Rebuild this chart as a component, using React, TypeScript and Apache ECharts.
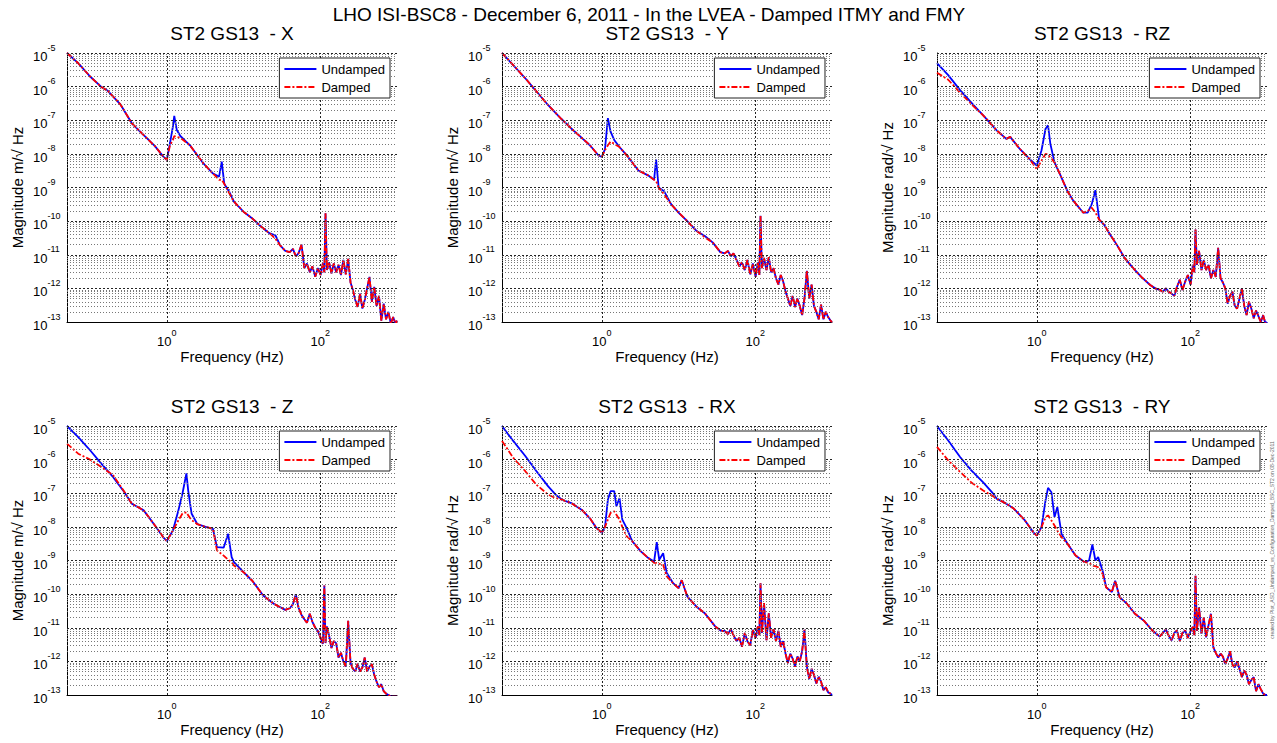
import React, { useEffect, useRef } from 'react';
import * as echarts from 'echarts';

// ---------- text ----------
const mainTitle = 'LHO ISI-BSC8 - December 6, 2011 - In the LVEA - Damped ITMY and FMY';
const panelTitles = ['ST2 GS13  - X', 'ST2 GS13  - Y', 'ST2 GS13  - RZ', 'ST2 GS13  - Z', 'ST2 GS13  - RX', 'ST2 GS13  - RY'];
const yAxisNames = ['Magnitude m/\u221A Hz', 'Magnitude m/\u221A Hz', 'Magnitude rad/\u221A Hz', 'Magnitude m/\u221A Hz', 'Magnitude rad/\u221A Hz', 'Magnitude rad/\u221A Hz'];
const xAxisName = 'Frequency (Hz)';
const seriesNames = ['Undamped', 'Damped'];
const watermark = 'created by Plot_ASD_Undamped_vs_Configuration_Damped_BSC_ST2 on 08-Dec-2011';

// ---------- axes ----------
const xMin = 0.05;
const xMax = 1000;
const yMin = 1e-13;
const yMax = 1e-5;
const xLabelTicks = [1, 100];
const yDecadeExponents = [-13, -12, -11, -10, -9, -8, -7, -6, -5];
const minorMultipliers = [2, 3, 4, 5, 6, 7, 8, 9];

// ---------- shared high-frequency grid (Hz), both traces overlap there ----------
const tailFreq = [40, 44, 48, 52, 57, 62, 67, 73, 79, 86, 93, 101, 108, 113, 117, 122, 130, 140, 150, 161, 173, 186, 200, 215, 231, 248, 266, 286, 307, 330, 354, 380, 408, 438, 470, 505, 542, 582, 625, 671, 720, 773, 830, 891, 956, 1000];

// ---------- X ----------
const freqX = [0.05, 0.07, 0.1, 0.14, 0.17, 0.25, 0.35, 0.5, 0.7, 0.9, 1.0, 1.1, 1.2, 1.25, 1.35, 1.5, 2.0, 3.0, 4.0, 4.8, 5.2, 5.6, 6.5, 7.5, 10, 13, 17, 22, 26, 30, 35];
const undampedX = [1.0e-5, 5.0e-6, 2.0e-6, 9.8e-7, 7.5e-7, 2.9e-7, 8.1e-8, 3.6e-8, 1.7e-8, 8.3e-9, 6.6e-9, 2.1e-8, 6.5e-8, 1.35e-7, 5.1e-8, 3.4e-8, 1.8e-8, 5.2e-9, 2.6e-9, 2.1e-9, 5.9e-9, 1.3e-9, 7.5e-10, 3.8e-10, 1.9e-10, 1.2e-10, 6.8e-11, 4.3e-11, 3.8e-11, 1.9e-11, 1.3e-11];
const dampedX = [1.0e-5, 5.0e-6, 2.0e-6, 9.8e-7, 7.5e-7, 2.9e-7, 8.1e-8, 3.6e-8, 1.7e-8, 8.3e-9, 6.6e-9, 1.8e-8, 2.6e-8, 3.4e-8, 3.2e-8, 3.0e-8, 1.8e-8, 5.2e-9, 2.6e-9, 1.7e-9, 1.7e-9, 1.3e-9, 6.8e-10, 3.8e-10, 1.9e-10, 1.2e-10, 6.8e-11, 4.3e-11, 3.0e-11, 1.9e-11, 1.3e-11];
const tailX = [1.2e-11, 1.5e-11, 9e-12, 1.1e-11, 2.0e-11, 4.0e-12, 5.5e-12, 3.0e-12, 4.5e-12, 2.2e-12, 4.0e-12, 2.5e-12, 5.5e-12, 3.0e-12, 1.7e-10, 3.5e-12, 6.0e-12, 2.8e-12, 5.5e-12, 3.0e-12, 5.0e-12, 2.5e-12, 7.0e-12, 2.6e-12, 7.5e-12, 1.5e-12, 9e-13, 4.5e-13, 2.8e-13, 7e-13, 2.5e-13, 4.5e-13, 1.0e-12, 2.2e-12, 4.0e-13, 1.1e-12, 3.0e-13, 6.0e-13, 1.1e-13, 3.5e-13, 1.2e-13, 2.0e-13, 9e-14, 1.4e-13, 9e-14, 1.1e-13];

// ---------- Y ----------
const freqY = [0.05, 0.1, 0.2, 0.3, 0.4, 0.5, 0.7, 0.9, 1.0, 1.1, 1.2, 1.3, 1.45, 1.7, 2.2, 3, 4, 4.8, 5.1, 5.5, 6.5, 8, 10, 13, 17, 22, 28, 35];
const undampedY = [1.0e-5, 1.8e-6, 2.8e-7, 1.07e-7, 5.7e-8, 3.6e-8, 1.8e-8, 9.1e-9, 8.1e-9, 1.4e-8, 1.15e-7, 4.6e-8, 2.6e-8, 1.6e-8, 8.1e-9, 3.2e-9, 2.3e-9, 1.7e-9, 6.8e-9, 1.0e-9, 7.7e-10, 3.2e-10, 1.8e-10, 1.0e-10, 5.2e-11, 3.6e-11, 2.3e-11, 1.2e-11];
const dampedY = [1.0e-5, 1.8e-6, 2.8e-7, 1.07e-7, 5.7e-8, 3.6e-8, 1.8e-8, 9.1e-9, 8.1e-9, 1.3e-8, 1.8e-8, 2.3e-8, 2.0e-8, 1.6e-8, 8.1e-9, 3.2e-9, 2.3e-9, 1.7e-9, 1.55e-9, 1.0e-9, 6.2e-10, 3.2e-10, 1.8e-10, 1.0e-10, 5.2e-11, 3.3e-11, 2.3e-11, 1.2e-11];
const tailY = [1.1e-11, 1.3e-11, 9e-12, 1.1e-11, 7e-12, 4.5e-12, 6e-12, 3.5e-12, 7e-12, 2.6e-12, 5.5e-12, 2.2e-12, 6e-12, 2.5e-12, 1.45e-10, 4e-12, 8e-12, 3.5e-12, 8.5e-12, 3.0e-12, 4.0e-12, 2.0e-12, 1.3e-12, 2.5e-12, 1.6e-12, 8e-13, 5e-13, 3e-13, 6e-13, 2.8e-13, 5e-13, 3e-13, 1.6e-13, 5e-13, 3.3e-12, 5e-13, 1.3e-12, 3e-13, 2.0e-13, 1.2e-13, 3.3e-13, 1.2e-13, 2e-13, 1.4e-13, 1.1e-13, 1.0e-13];

// ---------- RZ ----------
const freqRZ = [0.05, 0.07, 0.1, 0.15, 0.2, 0.3, 0.4, 0.45, 0.6, 0.8, 1.0, 1.15, 1.3, 1.4, 1.5, 1.7, 2.0, 2.5, 3.0, 4.0, 4.6, 5.2, 5.8, 6.5, 7.5, 9, 11, 14, 18, 23, 30, 35];
const undampedRZ = [5.0e-6, 2.2e-6, 7.9e-7, 2.8e-7, 1.4e-7, 5.0e-8, 2.8e-8, 3.2e-8, 1.4e-8, 7.1e-9, 4.5e-9, 1.26e-8, 5.6e-8, 7.1e-8, 2.0e-8, 5.6e-9, 2.5e-9, 7.9e-10, 4.0e-10, 1.8e-10, 1.8e-10, 3.2e-10, 8.3e-10, 1.1e-10, 7.9e-11, 4.0e-11, 2.0e-11, 7.9e-12, 4.0e-12, 2.2e-12, 1.26e-12, 1.0e-12];
const dampedRZ = [2.6e-6, 1.6e-6, 6.6e-7, 2.6e-7, 1.4e-7, 5.0e-8, 2.8e-8, 3.2e-8, 1.4e-8, 7.1e-9, 3.5e-9, 6.3e-9, 1.0e-8, 9.5e-9, 7.9e-9, 5.6e-9, 2.5e-9, 7.9e-10, 4.0e-10, 1.8e-10, 2.0e-10, 2.5e-10, 1.8e-10, 1.1e-10, 7.9e-11, 4.0e-11, 2.0e-11, 7.9e-12, 4.0e-12, 2.2e-12, 1.26e-12, 1.0e-12];
const tailRZ = [9e-13, 8e-13, 1.0e-12, 8e-13, 7e-13, 6e-13, 1.1e-12, 1.8e-12, 9e-13, 1.6e-12, 2.5e-12, 1.3e-12, 5e-12, 3e-12, 5.6e-11, 5e-12, 1.3e-11, 3.5e-12, 7e-12, 3.5e-12, 5e-12, 2.0e-12, 3.5e-12, 2.2e-12, 1.6e-11, 2.0e-12, 1.5e-12, 1.0e-12, 3.5e-13, 6e-13, 8e-13, 3e-13, 2.5e-13, 5e-13, 1.0e-12, 3e-13, 1.6e-13, 4e-13, 2.5e-13, 1.3e-13, 2.2e-13, 1.5e-13, 1.0e-13, 1.6e-13, 9e-14, 1.0e-13];

// ---------- Z ----------
const freqZ = [0.05, 0.07, 0.1, 0.14, 0.2, 0.28, 0.35, 0.5, 0.7, 0.9, 1.0, 1.2, 1.4, 1.6, 1.8, 1.9, 2.1, 2.5, 3.2, 4.0, 4.5, 5.5, 6.3, 7, 7.5, 10, 13, 18, 25, 35];
const undampedZ = [1.0e-5, 4.7e-6, 1.9e-6, 7.6e-7, 3.0e-7, 1.07e-7, 4.9e-8, 3.1e-8, 1.1e-8, 4.9e-9, 3.8e-9, 7.8e-9, 2.8e-8, 9.8e-8, 3.9e-7, 1.2e-7, 2.5e-8, 1.2e-8, 1.0e-8, 8.7e-9, 2.5e-9, 2.4e-9, 6.2e-9, 1.26e-9, 8.9e-10, 4.5e-10, 2.5e-10, 9.1e-11, 5.1e-11, 3.4e-11];
const dampedZ = [3.0e-6, 1.5e-6, 1.0e-6, 6.0e-7, 3.4e-7, 1.1e-7, 4.9e-8, 3.1e-8, 1.1e-8, 4.9e-9, 3.8e-9, 7.8e-9, 1.5e-8, 2.5e-8, 2.7e-8, 2.2e-8, 1.6e-8, 1.2e-8, 1.0e-8, 8.7e-9, 2.0e-9, 1.4e-9, 1.05e-9, 8.9e-10, 7.1e-10, 4.5e-10, 2.5e-10, 9.1e-11, 5.1e-11, 3.4e-11];
const tailZ = [3.8e-11, 5e-11, 1.0e-10, 4e-11, 2.4e-11, 1.8e-11, 1.4e-11, 2.6e-11, 1.5e-11, 1.0e-11, 8e-12, 5e-12, 3.3e-12, 1.8e-10, 3.5e-12, 1.1e-11, 6e-12, 2.5e-12, 4e-12, 3.5e-12, 1.3e-12, 1.8e-12, 1.0e-12, 7e-13, 1.6e-11, 9e-13, 6e-13, 5e-13, 8.5e-13, 5e-13, 6.6e-13, 1.3e-12, 5e-13, 7e-13, 8.3e-13, 4e-13, 2.5e-13, 1.7e-13, 2.1e-13, 1.3e-13, 1.1e-13, 1.0e-13, 9e-14, 9e-14, 9e-14, 9e-14];

// ---------- RX ----------
const freqRX = [0.05, 0.07, 0.1, 0.14, 0.2, 0.25, 0.3, 0.4, 0.55, 0.7, 0.85, 1.0, 1.1, 1.2, 1.3, 1.45, 1.55, 1.7, 1.85, 2.1, 2.5, 3.2, 4, 4.8, 5.2, 5.6, 6.3, 7, 8.5, 10, 11, 13, 17, 22, 30, 36];
const undampedRX = [1.0e-5, 3.6e-6, 1.3e-6, 4.6e-7, 1.6e-7, 9.1e-8, 6.5e-8, 5.1e-8, 3.2e-8, 1.8e-8, 9.3e-9, 6.6e-9, 1.0e-8, 6.5e-8, 1.15e-7, 1.15e-7, 4.1e-8, 7.2e-8, 1.65e-8, 9.3e-9, 3.7e-9, 1.9e-9, 1.2e-9, 9.3e-10, 3.5e-9, 1.05e-9, 1.65e-9, 4.3e-10, 2.1e-10, 1.5e-10, 2.6e-10, 8.5e-11, 4.3e-11, 2.7e-11, 1.1e-11, 8e-12];
const dampedRX = [3.6e-6, 1.14e-6, 4.6e-7, 1.8e-7, 9.1e-8, 7.2e-8, 6.5e-8, 5.1e-8, 3.2e-8, 1.8e-8, 9.3e-9, 6.6e-9, 1.0e-8, 1.65e-8, 2.6e-8, 2.9e-8, 2.3e-8, 1.65e-8, 1.0e-8, 5.3e-9, 3.7e-9, 1.9e-9, 1.2e-9, 8.5e-10, 8.5e-10, 8.0e-10, 7.4e-10, 3.4e-10, 2.1e-10, 1.5e-10, 2.6e-10, 8.5e-11, 4.3e-11, 2.7e-11, 1.1e-11, 8e-12];
const tailRX = [8e-12, 6.5e-12, 9e-12, 6e-12, 4e-12, 5e-12, 2.7e-12, 7e-12, 4e-12, 3e-12, 8.7e-12, 5e-12, 1.1e-11, 6e-12, 2.1e-10, 7e-12, 5.4e-11, 4.3e-12, 2.7e-11, 5e-12, 9e-12, 4e-12, 8e-12, 2.7e-12, 4e-12, 1.7e-12, 9e-13, 1.7e-12, 1.2e-12, 6.9e-13, 1.4e-12, 1.0e-12, 2.0e-12, 8.7e-12, 7e-13, 3e-13, 6e-13, 4e-13, 2.2e-13, 3.5e-13, 2.5e-13, 1.4e-13, 1.7e-13, 1.2e-13, 1.1e-13, 1.0e-13];

// ---------- RY ----------
const freqRY = [0.05, 0.07, 0.1, 0.14, 0.2, 0.27, 0.3, 0.4, 0.5, 0.7, 0.9, 1.0, 1.15, 1.3, 1.4, 1.55, 1.7, 1.85, 2.1, 2.5, 3.2, 4.2, 4.8, 5.3, 5.8, 6.3, 7.2, 8, 9.5, 10.5, 12, 15, 19, 25, 32];
const undampedRY = [1.0e-5, 3.7e-6, 1.2e-6, 4.8e-7, 2.1e-7, 9.8e-8, 6.9e-8, 4.9e-8, 3.5e-8, 1.55e-8, 6.9e-9, 5.5e-9, 9.8e-9, 6.2e-8, 1.45e-7, 1.07e-7, 1.95e-8, 3.9e-8, 6.2e-9, 3.2e-9, 1.4e-9, 8.9e-10, 1.0e-9, 3.0e-9, 1.0e-9, 1.26e-9, 5.0e-10, 1.6e-10, 1.15e-10, 2.5e-10, 8.1e-11, 5.1e-11, 2.6e-11, 1.6e-11, 8.3e-12];
const dampedRY = [2.4e-6, 9.5e-7, 4.3e-7, 2.1e-7, 1.2e-7, 8.1e-8, 6.9e-8, 4.9e-8, 3.5e-8, 1.55e-8, 6.9e-9, 5.5e-9, 9.8e-9, 1.95e-8, 2.2e-8, 1.55e-8, 1.1e-8, 7.8e-9, 4.9e-9, 3.2e-9, 1.4e-9, 8.9e-10, 8.5e-10, 7.0e-10, 6.8e-10, 6.3e-10, 4.0e-10, 1.6e-10, 1.15e-10, 2.5e-10, 8.1e-11, 5.1e-11, 2.6e-11, 1.6e-11, 8.3e-12];
const tailRY = [5.5e-12, 7e-12, 9e-12, 6e-12, 4.2e-12, 7e-12, 8.3e-12, 4e-12, 7e-12, 8.3e-12, 5e-12, 8e-12, 1.05e-11, 6e-12, 3.5e-10, 8e-12, 4.1e-11, 6.6e-12, 2.0e-11, 5.2e-12, 1.2e-11, 2.6e-11, 2.6e-12, 1.8e-12, 1.3e-12, 1.7e-12, 1.4e-12, 8.3e-13, 1.2e-12, 2.0e-12, 8e-13, 6.6e-13, 1.0e-12, 6e-13, 3.4e-13, 5.3e-13, 4e-13, 2.1e-13, 2.8e-13, 3.4e-13, 1.3e-13, 2.1e-13, 1.5e-13, 1.1e-13, 1.0e-13, 1.0e-13];

const panelFreqs = [freqX, freqY, freqRZ, freqZ, freqRX, freqRY];
const panelUndamped = [undampedX, undampedY, undampedRZ, undampedZ, undampedRX, undampedRY];
const panelDamped = [dampedX, dampedY, dampedRZ, dampedZ, dampedRX, dampedRY];
const panelTails = [tailX, tailY, tailRZ, tailZ, tailRX, tailRY];

// ---------- layout / style ----------
const W = 1277;
const H = 743;
const FONT = '"Liberation Sans", Arial, Helvetica, sans-serif';
const colLeft = [67, 502, 937];
const rowTop = [53, 426];
const plotW = 330;
const plotH = 269;
const BLUE = '#0000ff';
const RED = '#ff0000';

const supRich = {
  b: { fontSize: 13, fontFamily: FONT, color: '#000', lineHeight: 20, verticalAlign: 'bottom' },
  e: { fontSize: 9, fontFamily: FONT, color: '#000', lineHeight: 8, verticalAlign: 'top' },
};

function expLabel(v: number) {
  return `{b|10}{e|${Math.round(Math.log10(v))}}`;
}

export default function App() {
  const ref = useRef<HTMLDivElement>(null);

  useEffect(() => {
    if (!ref.current) return;
    const chart = echarts.init(ref.current, null, { renderer: 'svg' });

    const majorStyle = { color: '#222', type: [2, 2], width: 1 };
    const minorStyle = { color: '#777', type: [1, 2], width: 1 };
    const gridLines: any[] = [];
    yDecadeExponents.forEach((k) => {
      if (k > -13) gridLines.push({ yAxis: Math.pow(10, k), lineStyle: majorStyle });
      if (k < -5) minorMultipliers.forEach((m) => gridLines.push({ yAxis: m * Math.pow(10, k), lineStyle: minorStyle }));
    });
    xLabelTicks.forEach((v) => gridLines.push({ xAxis: v, lineStyle: majorStyle }));

    const grid: any[] = [];
    const xAxis: any[] = [];
    const yAxis: any[] = [];
    const series: any[] = [];
    const legend: any[] = [];
    const graphic: any[] = [];

    graphic.push({
      type: 'text', x: 649, y: 14,
      style: { text: mainTitle, font: `19px ${FONT}`, fill: '#000', align: 'center', verticalAlign: 'middle', textAlign: 'center', textVerticalAlign: 'middle' },
    });
    graphic.push({
      type: 'text', x: 1272, y: 540, rotation: Math.PI / 2,
      style: { text: watermark, font: `5px ${FONT}`, fill: '#666', align: 'center', verticalAlign: 'middle', textAlign: 'center', textVerticalAlign: 'middle' },
    });

    panelTitles.forEach((title, i) => {
      const r = Math.floor(i / 3);
      const c = i % 3;
      const left = colLeft[c];
      const top = rowTop[r];
      grid.push({ left, top, width: plotW, height: plotH, containLabel: false });

      graphic.push({
        type: 'text', x: left + plotW / 2, y: top - 20,
        style: { text: title, font: `19px ${FONT}`, fill: '#000', align: 'center', verticalAlign: 'middle', textAlign: 'center', textVerticalAlign: 'middle' },
      });

      xAxis.push({
        type: 'log', logBase: 10, gridIndex: i, min: xMin, max: xMax,
        axisLine: { onZero: false, lineStyle: { color: '#000', width: 1 } },
        axisTick: { show: false },
        splitLine: { show: false },
        axisLabel: {
          margin: 6,
          formatter: (v: number) => (xLabelTicks.some((t) => Math.abs(v - t) / t < 1e-6) ? expLabel(v) : ''),
          rich: supRich,
          showMinLabel: true, showMaxLabel: true,
        },
        name: xAxisName, nameLocation: 'middle', nameGap: 27,
        nameTextStyle: { fontSize: 15, fontFamily: FONT, color: '#000' },
      });

      yAxis.push({
        type: 'log', logBase: 10, gridIndex: i, min: yMin, max: yMax, splitNumber: 8,
        axisLine: { onZero: false, lineStyle: { color: '#000', width: 1 } },
        axisTick: { show: false },
        splitLine: { show: false },
        axisLabel: {
          margin: 34, align: 'left',
          formatter: (v: number) => expLabel(v),
          rich: supRich,
          showMinLabel: true, showMaxLabel: true,
        },
        name: yAxisNames[i], nameLocation: 'middle', nameGap: 42,
        nameTextStyle: { fontSize: 15, fontFamily: FONT, color: '#000' },
      });

      // grid lines (MATLAB-style major + minor log grid)
      series.push({
        type: 'line', xAxisIndex: i, yAxisIndex: i, data: [], silent: true, z: 1,
        markLine: { silent: true, precision: 20, symbol: ['none', 'none'], label: { show: false }, animation: false, data: gridLines },
      });

      const f = panelFreqs[i].concat(tailFreq);
      const und = panelUndamped[i].concat(panelTails[i]);
      const dam = panelDamped[i].concat(panelTails[i]);
      series.push({
        name: seriesNames[0], type: 'line', xAxisIndex: i, yAxisIndex: i,
        data: f.map((x, j) => [x, und[j]]),
        symbol: 'none', showSymbol: false, silent: true, z: 3,
        lineStyle: { color: BLUE, width: 1.8 }, itemStyle: { color: BLUE },
      });
      series.push({
        name: seriesNames[1], type: 'line', xAxisIndex: i, yAxisIndex: i,
        data: f.map((x, j) => [x, dam[j]]),
        symbol: 'none', showSymbol: false, silent: true, z: 4,
        lineStyle: { color: RED, width: 1.8, type: [6, 2, 2, 2] }, itemStyle: { color: RED },
      });

      legend.push({
        orient: 'vertical', right: W - (left + plotW - 7), top: top + 5,
        itemWidth: 32, itemHeight: 8, itemGap: 2,
        padding: [3, 5, 3, 4],
        borderColor: '#222', borderWidth: 1, backgroundColor: '#fff',
        selectedMode: false, z: 10,
        itemStyle: { opacity: 0 },
        textStyle: { fontSize: 13, fontFamily: FONT, color: '#000', lineHeight: 16 },
        data: seriesNames,
      });
    });

    chart.setOption({
      animation: false,
      backgroundColor: '#fff',
      textStyle: { fontFamily: FONT },
      grid, xAxis, yAxis, series, legend, graphic,
    });

    return () => chart.dispose();
  }, []);

  return <div ref={ref} style={{ position: 'fixed', left: 0, top: 0, width: W, height: H, background: '#fff' }} />;
}
